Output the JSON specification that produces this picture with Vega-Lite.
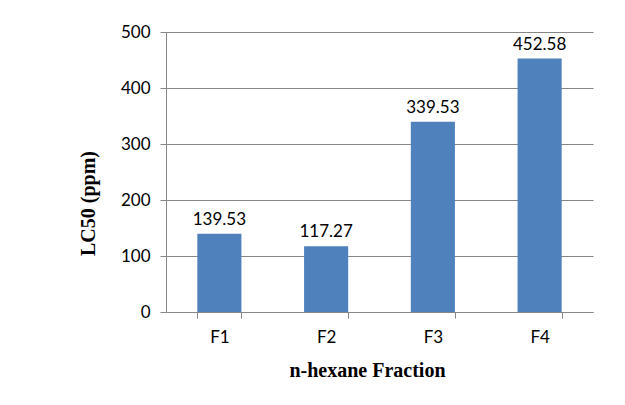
{
  "$schema": "https://vega.github.io/schema/vega-lite/v6.json",
  "width": 427,
  "height": 280,
  "autosize": {"type": "none"},
  "padding": {"left": 166, "top": 32, "right": 32, "bottom": 93},
  "background": "white",
  "config": {"view": {"stroke": null}},
  "data": {"values": [
    {"fraction": "F1", "lc50": 139.53},
    {"fraction": "F2", "lc50": 117.27},
    {"fraction": "F3", "lc50": 339.53},
    {"fraction": "F4", "lc50": 452.58}
  ]},
  "encoding": {
    "x": {
      "field": "fraction", "type": "nominal",
      "scale": {"paddingInner": 0.587, "paddingOuter": 0.2935},
      "axis": {
        "title": "n-hexane Fraction",
        "titleFont": "Liberation Serif", "titleFontSize": 20, "titleFontWeight": "bold", "titleColor": "black",
        "titleX": 201, "titleY": 58, "titleBaseline": "middle", "titleAlign": "center", "titleAnchor": null,
        "labelAngle": 0, "labelFont": "Lato", "labelFontSize": 17, "labelColor": "black",
        "labelPadding": 11, "tickBand": "extent", "tickSize": 6, "tickColor": "#868686",
        "domainColor": "#868686", "grid": false
      }
    },
    "y": {
      "field": "lc50", "type": "quantitative",
      "scale": {"domain": [0, 500]},
      "axis": {
        "title": "LC50 (ppm)", "values": [0, 100, 200, 300, 400, 500],
        "titleFont": "Liberation Serif", "titleFontSize": 20, "titleFontWeight": "bold", "titleColor": "black",
        "titleX": -78, "titleY": 171, "titleAngle": -90, "titleBaseline": "middle", "titleAlign": "center", "titleAnchor": null,
        "labelFont": "Lato", "labelFontSize": 17, "labelColor": "black", "labelPadding": 10,
        "tickSize": 6, "tickColor": "#868686", "domainColor": "#868686",
        "grid": true, "gridColor": "#868686"
      }
    }
  },
  "layer": [
    {"mark": {"type": "bar", "color": "#4F81BD"}},
    {"mark": {"type": "text", "baseline": "middle", "dy": -14, "font": "Lato", "fontSize": 17, "color": "black"},
     "encoding": {"text": {"field": "lc50", "type": "quantitative", "format": ".2f"}}}
  ]
}
